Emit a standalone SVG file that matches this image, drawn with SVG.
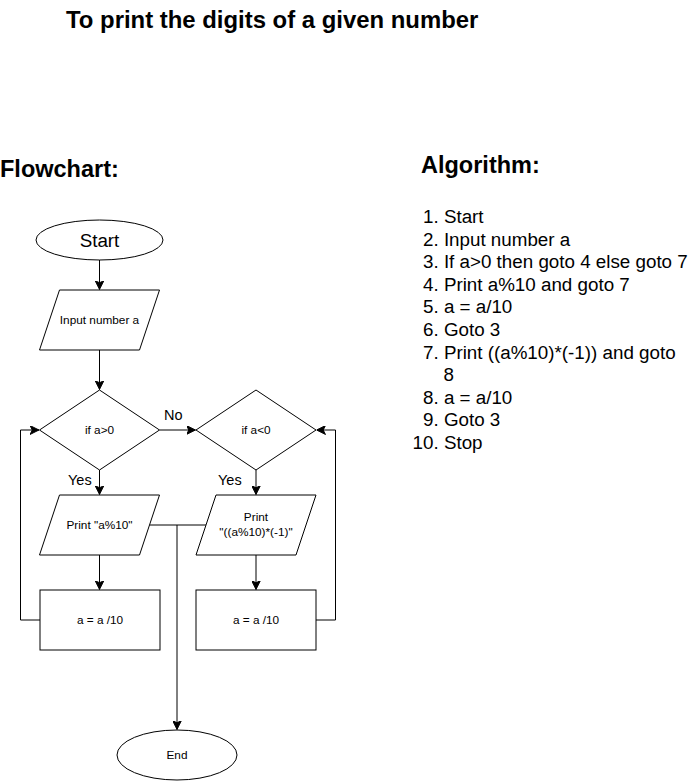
<svg xmlns="http://www.w3.org/2000/svg" width="691" height="781" viewBox="0 0 691 781">
<defs>
<style>
.shape{fill:#fff;stroke:#000;stroke-width:1}
.line{fill:none;stroke:#000;stroke-width:1}
text{font-family:"Liberation Sans",Arial,Helvetica,sans-serif;fill:#000}
.head{font-size:23.5px;font-weight:bold}
.title{font-size:23.9px;font-weight:bold}
.big{font-size:18.8px}
.small{font-size:11.8px;text-anchor:middle}
.lbl{font-size:14.5px}
</style>
<marker id="arr" viewBox="0 0 10 10" refX="10" refY="5" markerWidth="9" markerHeight="9" markerUnits="userSpaceOnUse" orient="auto">
<path d="M0,0 L10,5 L0,10 L2.5,5 z" fill="#000" stroke="#000" stroke-width="1"/>
</marker>
</defs>
<rect width="691" height="781" fill="#fff"/>
<g id="titles">
<text class="title" x="66" y="28">To print the digits of a given number</text>
<text class="head" x="0" y="177">Flowchart:</text>
<text class="head" x="421" y="173">Algorithm:</text>
</g>
<g id="algorithm">
<text class="big" x="423" y="223">1. Start</text>
<text class="big" x="423" y="245.6">2. Input number a</text>
<text class="big" x="423" y="268.2">3. If a&gt;0 then goto 4 else goto 7</text>
<text class="big" x="423" y="290.8">4. Print a%10 and goto 7</text>
<text class="big" x="423" y="313.4">5. a = a/10</text>
<text class="big" x="423" y="336">6. Goto 3</text>
<text class="big" x="423" y="358.6">7. Print ((a%10)*(-1)) and goto</text>
<text class="big" x="443.5" y="381.2">8</text>
<text class="big" x="423" y="403.8">8. a = a/10</text>
<text class="big" x="423" y="426.4">9. Goto 3</text>
<text class="big" x="412.6" y="449">10. Stop</text>
</g>
<g id="connectors">
<path class="line" d="M99.5,260 V289.5" marker-end="url(#arr)"/>
<path class="line" d="M99.5,350 V389.5" marker-end="url(#arr)"/>
<path class="line" d="M159.5,430 H195.5" marker-end="url(#arr)"/>
<path class="line" d="M99.5,470 V494.5" marker-end="url(#arr)"/>
<path class="line" d="M256,470 V494.5" marker-end="url(#arr)"/>
<path class="line" d="M99.5,555 V589.5" marker-end="url(#arr)"/>
<path class="line" d="M256,555 V589.5" marker-end="url(#arr)"/>
<path class="line" d="M40,620 H20.5 V430 H39" marker-end="url(#arr)"/>
<path class="line" d="M316,620 H335.5 V430 H316.5" marker-end="url(#arr)"/>
<path class="line" d="M149.5,525 H206"/>
<path class="line" d="M177,525 V729.5" marker-end="url(#arr)"/>
<text class="lbl" x="164" y="420">No</text>
<text class="lbl" x="68" y="485">Yes</text>
<text class="lbl" x="218" y="485">Yes</text>
</g>
<g id="start">
<ellipse class="shape" cx="99.5" cy="240" rx="63.5" ry="20"/>
<text class="big" x="99.5" y="246.5" text-anchor="middle">Start</text>
</g>
<g id="input">
<polygon class="shape" points="59.5,290 159.5,290 139.5,350 39.5,350"/>
<text class="small" x="99.5" y="324">Input number a</text>
</g>
<g id="cond1">
<polygon class="shape" points="99.5,390 159.5,430 99.5,470 39.5,430"/>
<text class="small" x="99.5" y="434">if a&gt;0</text>
</g>
<g id="cond2">
<polygon class="shape" points="256,390 316,430 256,470 196,430"/>
<text class="small" x="256" y="434">if a&lt;0</text>
</g>
<g id="print1">
<polygon class="shape" points="59.5,495 159.5,495 139.5,555 39.5,555"/>
<text class="small" x="99.5" y="529">Print "a%10"</text>
</g>
<g id="print2">
<polygon class="shape" points="216,495 316,495 296,555 196,555"/>
<text class="small" x="256" y="521">Print</text>
<text class="small" x="256" y="536">"((a%10)*(-1)"</text>
</g>
<g id="div1">
<rect class="shape" x="40" y="590" width="120" height="60"/>
<text class="small" x="100" y="624">a = a /10</text>
</g>
<g id="div2">
<rect class="shape" x="196" y="590" width="120" height="60"/>
<text class="small" x="256" y="624">a = a /10</text>
</g>
<g id="end">
<ellipse class="shape" cx="177" cy="755" rx="60" ry="25"/>
<text class="small" x="177" y="759">End</text>
</g>
</svg>
